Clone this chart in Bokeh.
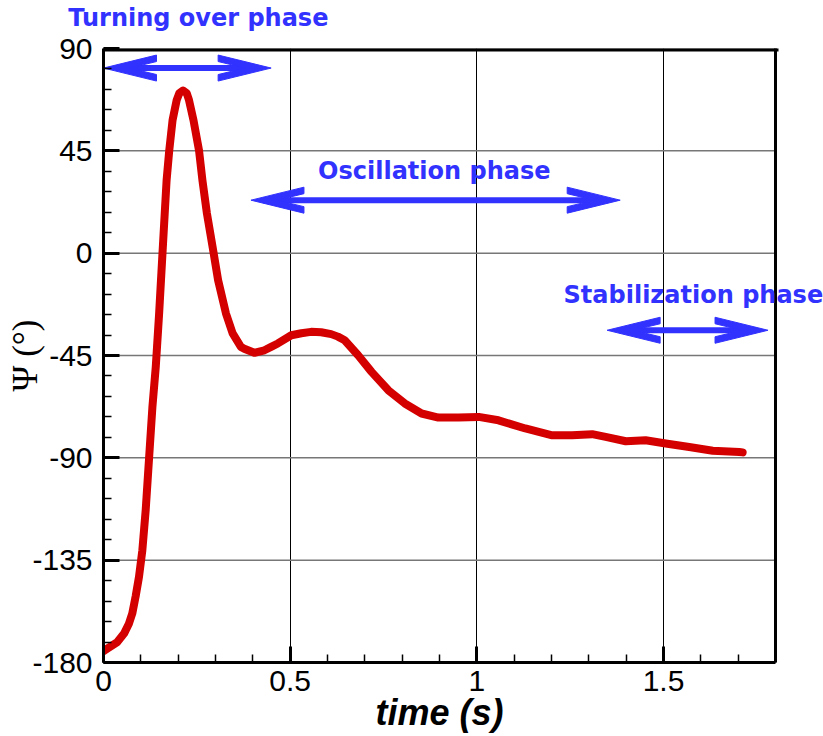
from bokeh.plotting import figure
from bokeh.models import FixedTicker, Label, Range1d, Title
from bokeh.embed import file_html
from bokeh.resources import INLINE

# ---- data ----
time_s = [0.0, 0.010, 0.037, 0.055, 0.068, 0.077, 0.086, 0.095, 0.104, 0.113,
          0.122, 0.131, 0.140, 0.149, 0.158, 0.164, 0.169, 0.176, 0.185, 0.196,
          0.203, 0.213, 0.223, 0.229, 0.241, 0.256, 0.265, 0.277, 0.295, 0.307,
          0.328, 0.346, 0.368, 0.377, 0.404, 0.431, 0.449, 0.467, 0.503, 0.53,
          0.556, 0.583, 0.61, 0.628, 0.646, 0.682, 0.718, 0.763, 0.807, 0.852,
          0.897, 0.951, 1.005, 1.058, 1.130, 1.202, 1.255, 1.309, 1.345, 1.399,
          1.452, 1.506, 1.569, 1.632, 1.703, 1.712]
psi_deg = [-175, -173.9, -171, -167.3, -163, -158.5, -151, -142.4, -130.7, -113,
           -90.3, -67.6, -50, -26.5, 0, 17.5, 32, 45, 58.5, 67.3,
           70.3, 71.5, 70.3, 67.3, 58.5, 45, 32, 17.5, 0, -11.9,
           -26.5, -35.3, -41.2, -42, -43.8, -42.7, -41.2, -39.7, -36.1, -35.2,
           -34.6, -34.8, -35.6, -36.7, -38.3, -44.9, -52.2, -60.3, -66.1, -70.5,
           -72.3, -72.3, -72.0, -73.5, -77.1, -80.1, -80.1, -79.6, -80.8, -82.7,
           -82.3, -83.7, -85.2, -86.9, -87.4, -87.6]

x_ticks = [0, 0.5, 1, 1.5]
x_tick_labels = ["0", "0.5", "1", "1.5"]
x_minor_ticks = [0, 0.1, 0.2, 0.3, 0.4, 0.5, 0.6, 0.7, 0.8, 0.9, 1.0,
                 1.1, 1.2, 1.3, 1.4, 1.5, 1.6, 1.7, 1.8]
y_ticks = [-180, -135, -90, -45, 0, 45, 90]
y_tick_labels = ["-180", "-135", "-90", "-45", "0", "45", "90"]
y_minor_ticks = [-180, -171, -162, -153, -144, -135, -126, -117, -108, -99,
                 -90, -81, -72, -63, -54, -45, -36, -27, -18, -9, 0,
                 9, 18, 27, 36, 45, 54, 63, 72, 81, 90]
x_axis_title = "time (s)"
y_axis_title = "Ψ (°)"

phase_names = ["Turning over phase", "Oscillation phase", "Stabilization phase"]
phase_start = [0.0, 0.395, 1.349]
phase_end = [0.449, 1.384, 1.78]
phase_arrow_psi = [81.4, 23.3, -33.9]
phase_label_t = [0.254, 0.886, 1.58]
phase_label_psi = [103.4, 36.1, -18.5]
phase_label_panel = ["above", "center", "center"]

X_MIN, X_MAX = 0, 1.8
Y_MIN, Y_MAX = -180, 90

W, H = 823, 736
BL, BT, BB = 103, 48, 74
RIGHT_GAP = 48  # white space right of the boxed plot area, kept inside the frame so texts can extend there
X_VIEW_MAX = X_MAX * (W - BL) / (W - BL - RIGHT_GAP)

p = figure(width=W, height=H, x_range=Range1d(X_MIN, X_VIEW_MAX), y_range=Range1d(Y_MIN, Y_MAX),
           output_backend="svg", toolbar_location=None,
           min_border_left=BL, min_border_right=0, min_border_top=BT, min_border_bottom=BB)
p.background_fill_color = "white"
p.border_fill_color = "white"
p.outline_line_color = None

xt = FixedTicker(ticks=x_ticks, minor_ticks=x_minor_ticks)
yt = FixedTicker(ticks=y_ticks, minor_ticks=y_minor_ticks)
p.xaxis.ticker = xt
p.yaxis.ticker = yt
p.xgrid.ticker = xt
p.xaxis.bounds = (X_MIN, X_MAX)
p.yaxis.bounds = (Y_MIN, Y_MAX)
p.xaxis.major_label_overrides = {float(k): v for k, v in zip(x_ticks, x_tick_labels)}
p.yaxis.major_label_overrides = {float(k): v for k, v in zip(y_ticks, y_tick_labels)}

for ax in (p.xaxis[0], p.yaxis[0]):
    ax.axis_line_width = 3
    ax.axis_line_color = "black"
    ax.major_tick_in = 16
    ax.major_tick_out = 0
    ax.minor_tick_in = 8
    ax.minor_tick_out = 0
    ax.major_tick_line_width = 3
    ax.minor_tick_line_width = 1.5
    ax.major_tick_line_color = "black"
    ax.minor_tick_line_color = "black"
    ax.major_label_text_font = "Liberation Sans"
    ax.major_label_text_font_size = "30px"
    ax.major_label_text_color = "black"

p.xaxis.major_label_standoff = 8
p.yaxis.major_label_standoff = 11

# x title centred under the boxed area (0 .. 1.8 s), not under the whole frame
x_title = Title(text=x_axis_title, align="left", offset=272, vertical_align="top", standoff=-4,
                text_font="Liberation Sans", text_font_style="bold italic",
                text_font_size="36px", text_color="black")
p.add_layout(x_title, "below")

p.yaxis.axis_label = y_axis_title
p.yaxis.axis_label_text_font = "Liberation Serif"
p.yaxis.axis_label_text_font_style = "normal"
p.yaxis.axis_label_text_font_size = "35px"
p.yaxis.axis_label_text_color = "black"
p.yaxis.axis_label_standoff = -16

p.xgrid.grid_line_color = "black"
p.xgrid.grid_line_width = 1
# horizontal grid lines limited to the boxed area (0 .. 1.8 s)
p.ygrid.visible = False
p.segment(x0=[X_MIN] * len(y_ticks), y0=y_ticks, x1=[X_MAX] * len(y_ticks), y1=y_ticks,
          line_color="#777777", line_width=1.5)

# main curve
p.line(time_s, psi_deg, line_color="#d40000", line_width=8, line_join="round", line_cap="round")

# box: top and right borders of the plotting area
p.segment(x0=[X_MIN, X_MAX], y0=[Y_MAX, Y_MIN], x1=[X_MAX, X_MAX], y1=[Y_MAX, Y_MAX],
          line_color="black", line_width=[6, 3], line_cap="square")

# double-headed phase arrows (head sizes in pixels converted to data units)
px_per_t = (W - BL) / (X_VIEW_MAX - X_MIN)
px_per_psi = (H - BT - BB) / (Y_MAX - Y_MIN)
HEAD_L, HEAD_H, BARB, NOTCH, SHAFT_GAP = 53, 13, 6.5, 26, 12
head_shape = [(0, 0), (HEAD_L, HEAD_H), (HEAD_L, HEAD_H - BARB), (NOTCH, 0),
              (HEAD_L, -HEAD_H + BARB), (HEAD_L, -HEAD_H)]
blue = "#3232ff"
hx, hy = [], []
sx0, sx1, sy = [], [], []
for a, b, y in zip(phase_start, phase_end, phase_arrow_psi):
    for tip, d in ((a, 1), (b, -1)):
        hx.append([tip + d * dx / px_per_t for dx, dy in head_shape])
        hy.append([y + dy / px_per_psi for dx, dy in head_shape])
    sx0.append(a + SHAFT_GAP / px_per_t)
    sx1.append(b - SHAFT_GAP / px_per_t)
    sy.append(y)
p.segment(x0=sx0, y0=sy, x1=sx1, y1=sy, line_color=blue, line_width=6, line_cap="butt")
p.patches(hx, hy, fill_color=blue, line_color=blue, line_width=1)

for name, t, y, side in zip(phase_names, phase_label_t, phase_label_psi, phase_label_panel):
    p.add_layout(Label(x=t, y=y, text=name, text_font="DejaVu Sans", text_font_style="bold",
                       text_font_size="24px", text_color=blue, text_align="center",
                       text_baseline="middle"), side)

open("out.html", "w").write(file_html(p, INLINE))
